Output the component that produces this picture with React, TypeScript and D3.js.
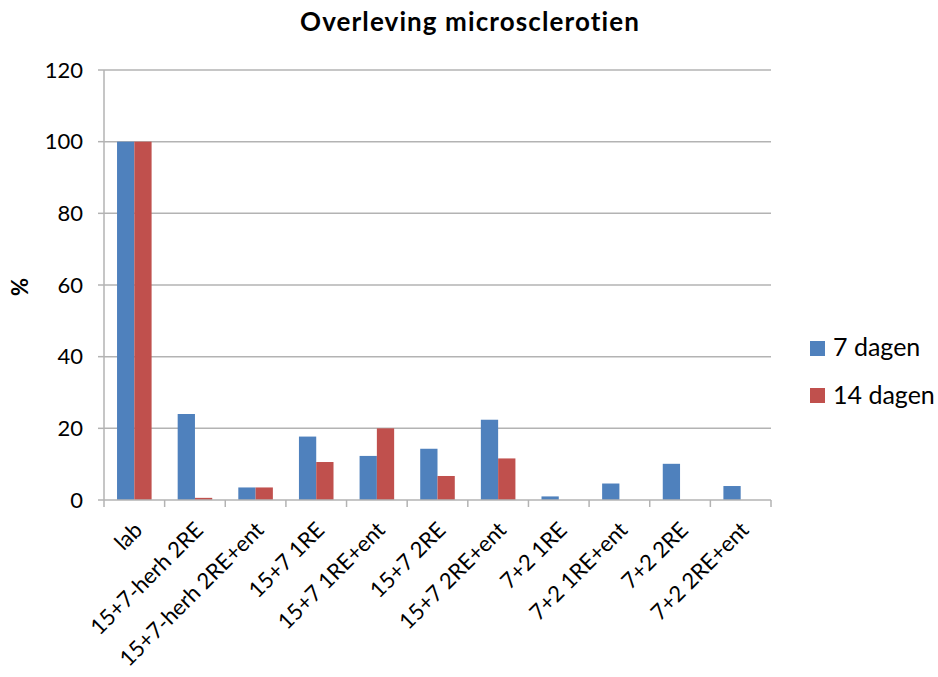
import React from "react";
import * as d3 from "d3";

const categories = [
  "lab",
  "15+7-herh 2RE",
  "15+7-herh 2RE+ent",
  "15+7 1RE",
  "15+7 1RE+ent",
  "15+7 2RE",
  "15+7 2RE+ent",
  "7+2 1RE",
  "7+2 1RE+ent",
  "7+2 2RE",
  "7+2 2RE+ent",
];
const days7 = [100, 24, 3.5, 17.7, 12.3, 14.3, 22.4, 1, 4.6, 10.1, 3.9];
const days14 = [100, 0.6, 3.5, 10.6, 20, 6.7, 11.6, 0, 0, 0, 0];
const seriesNames = ["7 dagen", "14 dagen"];
const colors = ["#4F81BD", "#C0504D"];
const yTicks = [0, 20, 40, 60, 80, 100, 120];

const W = 938;
const H = 677;
const left = 104;
const right = 771;
const top = 70;
const bottom = 500;
const font = "Lato, 'Open Sans', sans-serif";

export default function App() {
  const x = d3.scaleBand<string>().domain(categories).range([left, right]);
  const y = d3.scaleLinear().domain([0, 120]).range([bottom, top]);
  const bw = x.bandwidth();
  const barW = bw * 0.285;
  const series = [days7, days14];

  return (
    <svg width={W} height={H} style={{ position: "absolute", left: 0, top: 0, background: "#fff" }}>
      <text
        x={470}
        y={31}
        textAnchor="middle"
        fontFamily={font}
        fontWeight="bold"
        fontSize={26}
        letterSpacing={1.1}
        fill="#000"
      >
        Overleving microsclerotien
      </text>
      {yTicks.map((t) => (
        <g key={t}>
          {t > 0 && <line x1={left} x2={right} y1={y(t)} y2={y(t)} stroke="#b3b3b3" strokeWidth={1.5} />}
          <line x1={left - 6} x2={left} y1={y(t)} y2={y(t)} stroke="#b3b3b3" strokeWidth={1.5} />
          <text x={83} y={y(t)} dy="0.35em" textAnchor="end" fontFamily={font} fontSize={22} fill="#000">
            {t}
          </text>
        </g>
      ))}
      <line x1={left} x2={left} y1={top} y2={bottom} stroke="#b3b3b3" strokeWidth={1.5} />
      <text
        transform={`translate(28,${(top + bottom) / 2 + 2}) rotate(-90)`}
        textAnchor="middle"
        fontFamily={font}
        fontWeight="bold"
        fontSize={22}
        fill="#000"
      >
        %
      </text>
      {categories.map((c, i) => {
        const cx = (x(c) as number) + bw / 2;
        return (
          <g key={c}>
            {series.map((s, si) =>
              s[i] > 0 ? (
                <rect
                  key={si}
                  x={cx - barW + si * barW}
                  y={y(s[i])}
                  width={barW}
                  height={y(0) - y(s[i])}
                  fill={colors[si]}
                />
              ) : null
            )}
          </g>
        );
      })}
      <line x1={left} x2={right} y1={bottom} y2={bottom} stroke="#b3b3b3" strokeWidth={1.5} />
      {categories.concat([""]).map((c, i) => {
        const tx = left + i * bw;
        return <line key={i} x1={tx} x2={tx} y1={bottom} y2={bottom + 7} stroke="#b3b3b3" strokeWidth={1.5} />;
      })}
      {categories.map((c) => {
        const cx = (x(c) as number) + bw / 2;
        return (
          <text
            key={c}
            transform={`translate(${cx + 4},${bottom + 26}) rotate(-45)`}
            textAnchor="end"
            dy="0.35em"
            fontFamily={font}
            fontSize={22}
            fill="#000"
          >
            {c}
          </text>
        );
      })}
      {seriesNames.map((n, i) => (
        <g key={n}>
          <rect x={810} y={341 + i * 47} width={15} height={15} fill={colors[i]} />
          <text x={833} y={356 + i * 48} fontFamily={font} fontSize={25} fill="#000">
            {n}
          </text>
        </g>
      ))}
    </svg>
  );
}
